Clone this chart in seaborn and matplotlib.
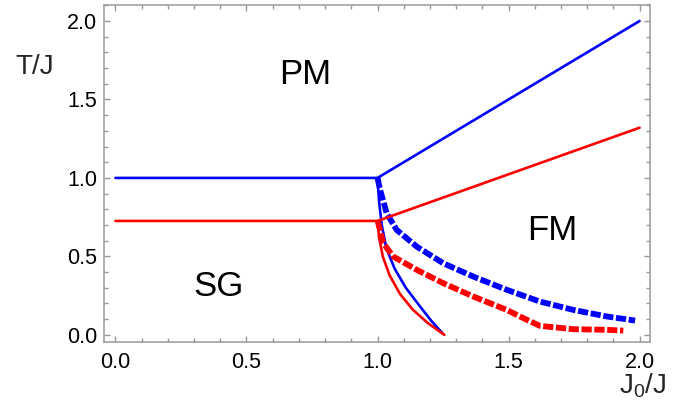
import matplotlib
matplotlib.use("Agg")
import matplotlib.pyplot as plt
from matplotlib.ticker import MultipleLocator
import seaborn as sns

# Phase boundaries, T/J versus J0/J
# Paramagnet boundary (blue model)
blue_pm_x = [0.0, 1.0, 2.0]
blue_pm_t = [1.0, 1.0, 2.0]
# Paramagnet boundary (red model)
red_pm_x = [0.0, 1.0, 2.0]
red_pm_t = [0.726, 0.726, 1.32]

# SG / mixed boundaries (solid)
blue_sg_x = [1.0, 1.006, 1.016, 1.034, 1.066, 1.108, 1.158, 1.205, 1.248]
blue_sg_t = [1.0, 0.85, 0.70, 0.55, 0.42, 0.30, 0.19, 0.09, 0.01]
red_sg_x = [1.0, 1.006, 1.020, 1.046, 1.086, 1.135, 1.192, 1.255]
red_sg_t = [0.726, 0.62, 0.50, 0.38, 0.26, 0.16, 0.075, 0.0]

# FM / mixed boundaries (dashed)
blue_fm_x = [1.0, 1.010, 1.035, 1.073, 1.150, 1.251, 1.366, 1.493, 1.620, 1.747, 1.875, 1.983]
blue_fm_t = [1.0, 0.924, 0.775, 0.669, 0.562, 0.456, 0.371, 0.287, 0.212, 0.159, 0.117, 0.091]
red_fm_x = [1.0, 1.003, 1.022, 1.060, 1.150, 1.251, 1.366, 1.493, 1.557, 1.620, 1.747, 1.875, 1.938]
red_fm_t = [0.726, 0.711, 0.584, 0.499, 0.414, 0.329, 0.244, 0.159, 0.106, 0.057, 0.036, 0.032, 0.027]

# Phase names and their positions
phase_names = ["PM", "FM", "SG"]
phase_x = [0.723, 1.666, 0.395]
phase_t = [1.656, 0.662, 0.306]

x_ticks = [0.0, 0.5, 1.0, 1.5, 2.0]
y_ticks = [0.0, 0.5, 1.0, 1.5, 2.0]

sns.set_theme(style="white")
plt.rcParams["font.family"] = ["Liberation Sans", "DejaVu Sans"]
plt.rcParams["mathtext.default"] = "regular"

fig = plt.figure(figsize=(6.75, 4.12), dpi=100)
ax = fig.add_axes([0.154, 0.169, 0.809, 0.820])

solid = dict(lw=1.9, sort=False, estimator=None, ax=ax)
dashed = dict(lw=4.2, sort=False, estimator=None, ax=ax, linestyle=(0, (1.75, 0.45)))

sns.lineplot(x=blue_pm_x, y=blue_pm_t, color="#0000ff", **solid)
sns.lineplot(x=blue_sg_x, y=blue_sg_t, color="#0000ff", **solid)
sns.lineplot(x=blue_fm_x, y=blue_fm_t, color="#0000ff", **dashed)
sns.lineplot(x=red_pm_x, y=red_pm_t, color="#ff0000", **solid)
sns.lineplot(x=red_sg_x, y=red_sg_t, color="#ff0000", **solid)
sns.lineplot(x=red_fm_x, y=red_fm_t, color="#ff0000", **dashed)

for name, px, pt in zip(phase_names, phase_x, phase_t):
    ax.text(px, pt, name, fontsize=25, ha="center", va="center", color="black")

ax.set_xlim(-0.044, 2.040)
ax.set_ylim(-0.048, 2.105)
ax.set_xticks(x_ticks)
ax.set_yticks(y_ticks)
ax.set_xticklabels([f"{v:.1f}" for v in x_ticks])
ax.set_yticklabels([f"{v:.1f}" for v in y_ticks])
ax.xaxis.set_minor_locator(MultipleLocator(0.1))
ax.yaxis.set_minor_locator(MultipleLocator(0.1))

frame_gray = "#999999"
for sp in ax.spines.values():
    sp.set_color(frame_gray)
    sp.set_linewidth(1.1)
ax.tick_params(which="both", direction="in", top=True, right=True,
               bottom=True, left=True, color=frame_gray, width=1.0,
               labelsize=15.5, labelcolor="black")
ax.tick_params(which="major", length=4.3)
ax.tick_params(which="minor", length=2.6)
ax.tick_params(axis="x", which="major", pad=7)
ax.tick_params(axis="y", which="major", pad=5)
ax.set_xlabel("")
ax.set_ylabel("")
ax.grid(False)

fig.text(0.052, 0.837, "T/J", fontsize=20, ha="center", va="center")
fig.text(0.952, 0.063, "J$_{0}$/J", fontsize=20, ha="center", va="center")

fig.savefig("out.png", dpi=100, facecolor="white")
